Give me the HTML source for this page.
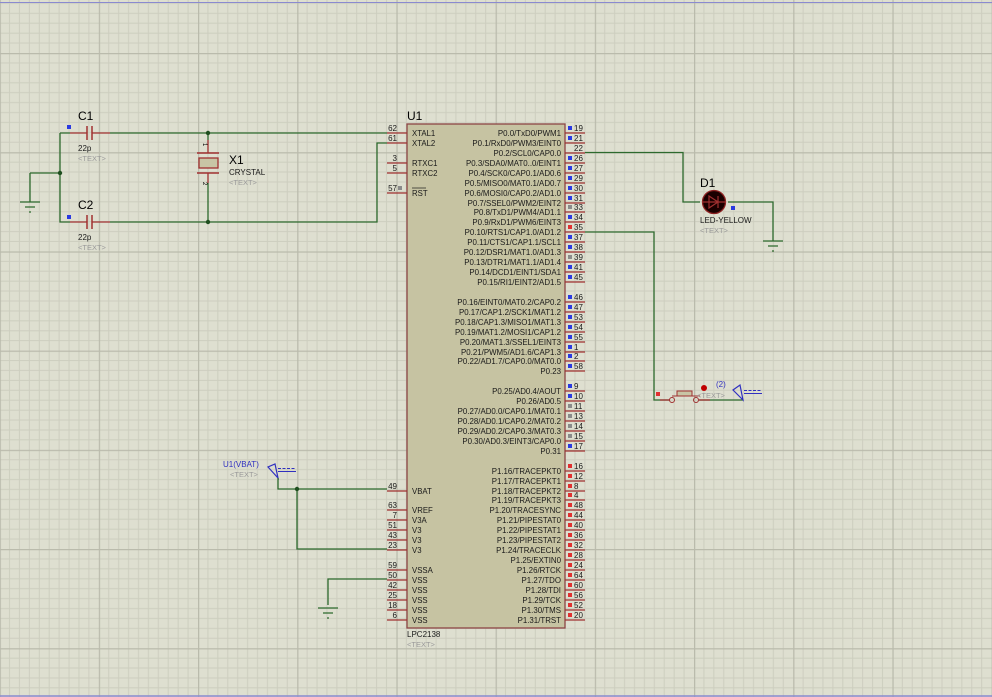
<!DOCTYPE html>
<html><head><meta charset="utf-8"><style>
html,body{margin:0;padding:0;background:#dcdccd;}
svg{display:block;}
text{font-family:"Liberation Sans",sans-serif;}
.p{font-size:7.8px;fill:#1a1a1a;}
.n{font-size:8px;fill:#1a1a1a;}
.lbl{font-size:7.9px;fill:#1a1a1a;text-anchor:end;}
.w{stroke:#2d6a2d;stroke-width:1.3;fill:none;}
.r{stroke:#a03030;stroke-width:1.3;fill:none;}
.g{fill:#9a9a9a;font-size:7.5px;}
</style></head><body>
<svg width="992" height="697" viewBox="0 0 992 697" xmlns="http://www.w3.org/2000/svg">
<defs>
<pattern id="gr" x="198" y="53" width="99.2" height="99.2" patternUnits="userSpaceOnUse">
<rect width="99.2" height="99.2" fill="#dedfd0"/>
<path d="M9.92 0V99.2M19.84 0V99.2M29.76 0V99.2M39.68 0V99.2M49.6 0V99.2M59.52 0V99.2M69.44 0V99.2M79.36 0V99.2M89.28 0V99.2M0 9.92H99.2M0 19.84H99.2M0 29.76H99.2M0 39.68H99.2M0 49.6H99.2M0 59.52H99.2M0 69.44H99.2M0 79.36H99.2M0 89.28H99.2" stroke="#cdcebf" stroke-width="1"/>
<path d="M0.5 0V99.2M0 0.5H99.2" stroke="#babbac" stroke-width="1.5"/>
</pattern>
</defs>
<rect width="992" height="697" fill="url(#gr)"/>
<line x1="0" y1="2.5" x2="992" y2="2.5" stroke="#8a8ad0" stroke-width="1"/>
<line x1="0" y1="696" x2="992" y2="696" stroke="#8a8ad0" stroke-width="1.5"/>

<!-- left circuit -->
<path class="w" d="M60 133H70M110 133H387M60 133V222H70M110 222H377V143H387M30 173H60M30 173V202M208 133V140M208 183V222"/>
<path class="r" d="M70 133H87M92 133H110M70 222H87M92 222H110M208 140V153M208 173V183"/>
<path d="M87 126V140M92 126V140M87 215V229M92 215V229" stroke="#a03030" stroke-width="1.5"/>
<path d="M197 153H219M197 173H219" stroke="#a03030" stroke-width="1.5"/>
<rect x="199" y="158" width="19" height="10" fill="#c8c5a5" stroke="#a03030" stroke-width="1.3"/>
<circle cx="60" cy="173" r="2.2" fill="#1f4f1f"/>
<circle cx="208" cy="133" r="2.2" fill="#1f4f1f"/>
<circle cx="208" cy="222" r="2.2" fill="#1f4f1f"/>
<path d="M20 202H40M25 207H35M29 212H31" stroke="#2d6a2d" stroke-width="1.3"/>
<rect x="67" y="125" width="4" height="4" fill="#2a3ae0"/>
<rect x="67" y="215" width="4" height="4" fill="#2a3ae0"/>
<text x="78" y="120" style="font-size:12px">C1</text>
<text x="78" y="151" class="n">22p</text>
<text x="78" y="161" class="g">&lt;TEXT&gt;</text>
<text x="78" y="209" style="font-size:12px">C2</text>
<text x="78" y="240" class="n">22p</text>
<text x="78" y="250" class="g">&lt;TEXT&gt;</text>
<text x="229" y="164" style="font-size:12px">X1</text>
<text x="229" y="175" class="n">CRYSTAL</text>
<text x="229" y="185" class="g">&lt;TEXT&gt;</text>
<text x="203" y="143" style="font-size:6px" transform="rotate(90 203 143)">1</text>
<text x="200" y="185" style="font-size:6px" transform="rotate(90 203 185)">2</text>

<!-- chip -->
<rect x="407" y="124" width="158" height="504" fill="#c6c3a2" stroke="#8c4545" stroke-width="1.3"/>
<text x="407" y="120" style="font-size:12px">U1</text>
<text x="407" y="637" class="n">LPC2138</text>
<text x="407" y="647" class="g">&lt;TEXT&gt;</text>

<!-- left pins -->
<g class="r"><path d="M387 133H407M387 143H407M387 163H407M387 173H407M387 193H407M387 491H407M387 510H407M387 520H407M387 530H407M387 540H407M387 550H407M387 570H407M387 580H407M387 590H407M387 600H407M387 610H407M387 620H407"/></g>
<g class="n" text-anchor="end">
<text x="397" y="131">62</text><text x="397" y="141">61</text><text x="397" y="161">3</text><text x="397" y="171">5</text><text x="397" y="191">57</text>
<text x="397" y="489">49</text><text x="397" y="508">63</text><text x="397" y="518">7</text><text x="397" y="528">51</text><text x="397" y="538">43</text><text x="397" y="548">23</text>
<text x="397" y="568">59</text><text x="397" y="578">50</text><text x="397" y="588">42</text><text x="397" y="598">25</text><text x="397" y="608">18</text><text x="397" y="618">6</text>
</g>
<rect x="398" y="186" width="4" height="4" fill="#8a8a8a"/>
<g class="p">
<text x="412" y="136">XTAL1</text><text x="412" y="146">XTAL2</text><text x="412" y="166">RTXC1</text><text x="412" y="176">RTXC2</text><text x="412" y="196">RST</text>
<text x="412" y="494">VBAT</text><text x="412" y="513">VREF</text><text x="412" y="523">V3A</text><text x="412" y="533">V3</text><text x="412" y="543">V3</text><text x="412" y="553">V3</text>
<text x="412" y="573">VSSA</text><text x="412" y="583">VSS</text><text x="412" y="593">VSS</text><text x="412" y="603">VSS</text><text x="412" y="613">VSS</text><text x="412" y="623">VSS</text>
</g>
<line x1="412" y1="188" x2="426" y2="188" stroke="#1a1a1a" stroke-width="0.7"/>

<!-- right pins -->
<g class="r"><path d="M565 133H585M565 143H585M565 153H585M565 163H585M565 173H585M565 183H585M565 193H585M565 203H585M565 212H585M565 222H585M565 232H585M565 242H585M565 252H585M565 262H585M565 272H585M565 282H585M565 302H585M565 312H585M565 322H585M565 332H585M565 342H585M565 352H585M565 361H585M565 371H585M565 391H585M565 401H585M565 411H585M565 421H585M565 431H585M565 441H585M565 451H585M565 471H585M565 481H585M565 491H585M565 500H585M565 510H585M565 520H585M565 530H585M565 540H585M565 550H585M565 560H585M565 570H585M565 580H585M565 590H585M565 600H585M565 610H585M565 620H585"/></g>
<g class="lbl">
<text x="561" y="136">P0.0/TxD0/PWM1</text>
<text x="561" y="146">P0.1/RxD0/PWM3/EINT0</text>
<text x="561" y="156">P0.2/SCL0/CAP0.0</text>
<text x="561" y="166">P0.3/SDA0/MAT0..0/EINT1</text>
<text x="561" y="176">P0.4/SCK0/CAP0.1/AD0.6</text>
<text x="561" y="186">P0.5/MISO0/MAT0.1/AD0.7</text>
<text x="561" y="196">P0.6/MOSI0/CAP0.2/AD1.0</text>
<text x="561" y="206">P0.7/SSEL0/PWM2/EINT2</text>
<text x="561" y="215">P0.8/TxD1/PWM4/AD1.1</text>
<text x="561" y="225">P0.9/RxD1/PWM6/EINT3</text>
<text x="561" y="235">P0.10/RTS1/CAP1.0/AD1.2</text>
<text x="561" y="245">P0.11/CTS1/CAP1.1/SCL1</text>
<text x="561" y="255">P0.12/DSR1/MAT1.0/AD1.3</text>
<text x="561" y="265">P0.13/DTR1/MAT1.1/AD1.4</text>
<text x="561" y="275">P0.14/DCD1/EINT1/SDA1</text>
<text x="561" y="285">P0.15/RI1/EINT2/AD1.5</text>
<text x="561" y="305">P0.16/EINT0/MAT0.2/CAP0.2</text>
<text x="561" y="315">P0.17/CAP1.2/SCK1/MAT1.2</text>
<text x="561" y="325">P0.18/CAP1.3/MISO1/MAT1.3</text>
<text x="561" y="335">P0.19/MAT1.2/MOSI1/CAP1.2</text>
<text x="561" y="345">P0.20/MAT1.3/SSEL1/EINT3</text>
<text x="561" y="355">P0.21/PWM5/AD1.6/CAP1.3</text>
<text x="561" y="364">P0.22/AD1.7/CAP0.0/MAT0.0</text>
<text x="561" y="374">P0.23</text>
<text x="561" y="394">P0.25/AD0.4/AOUT</text>
<text x="561" y="404">P0.26/AD0.5</text>
<text x="561" y="414">P0.27/AD0.0/CAP0.1/MAT0.1</text>
<text x="561" y="424">P0.28/AD0.1/CAP0.2/MAT0.2</text>
<text x="561" y="434">P0.29/AD0.2/CAP0.3/MAT0.3</text>
<text x="561" y="444">P0.30/AD0.3/EINT3/CAP0.0</text>
<text x="561" y="454">P0.31</text>
<text x="561" y="474">P1.16/TRACEPKT0</text>
<text x="561" y="484">P1.17/TRACEPKT1</text>
<text x="561" y="494">P1.18/TRACEPKT2</text>
<text x="561" y="503">P1.19/TRACEPKT3</text>
<text x="561" y="513">P1.20/TRACESYNC</text>
<text x="561" y="523">P1.21/PIPESTAT0</text>
<text x="561" y="533">P1.22/PIPESTAT1</text>
<text x="561" y="543">P1.23/PIPESTAT2</text>
<text x="561" y="553">P1.24/TRACECLK</text>
<text x="561" y="563">P1.25/EXTIN0</text>
<text x="561" y="573">P1.26/RTCK</text>
<text x="561" y="583">P1.27/TDO</text>
<text x="561" y="593">P1.28/TDI</text>
<text x="561" y="603">P1.29/TCK</text>
<text x="561" y="613">P1.30/TMS</text>
<text x="561" y="623">P1.31/TRST</text>
</g>
<g class="n">
<text x="574" y="131">19</text><text x="574" y="141">21</text><text x="574" y="151">22</text><text x="574" y="161">26</text><text x="574" y="171">27</text><text x="574" y="181">29</text><text x="574" y="191">30</text><text x="574" y="201">31</text><text x="574" y="210">33</text><text x="574" y="220">34</text><text x="574" y="230">35</text><text x="574" y="240">37</text><text x="574" y="250">38</text><text x="574" y="260">39</text><text x="574" y="270">41</text><text x="574" y="280">45</text>
<text x="574" y="300">46</text><text x="574" y="310">47</text><text x="574" y="320">53</text><text x="574" y="330">54</text><text x="574" y="340">55</text><text x="574" y="350">1</text><text x="574" y="359">2</text><text x="574" y="369">58</text>
<text x="574" y="389">9</text><text x="574" y="399">10</text><text x="574" y="409">11</text><text x="574" y="419">13</text><text x="574" y="429">14</text><text x="574" y="439">15</text><text x="574" y="449">17</text>
<text x="574" y="469">16</text><text x="574" y="479">12</text><text x="574" y="489">8</text><text x="574" y="498">4</text><text x="574" y="508">48</text><text x="574" y="518">44</text><text x="574" y="528">40</text><text x="574" y="538">36</text><text x="574" y="548">32</text><text x="574" y="558">28</text><text x="574" y="568">24</text><text x="574" y="578">64</text><text x="574" y="588">60</text><text x="574" y="598">56</text><text x="574" y="608">52</text><text x="574" y="618">20</text>
</g>
<g fill="#2a3ae0">
<rect x="568" y="126" width="4" height="4"/><rect x="568" y="136" width="4" height="4"/><rect x="568" y="156" width="4" height="4"/><rect x="568" y="166" width="4" height="4"/><rect x="568" y="176" width="4" height="4"/><rect x="568" y="186" width="4" height="4"/><rect x="568" y="196" width="4" height="4"/><rect x="568" y="215" width="4" height="4"/><rect x="568" y="235" width="4" height="4"/><rect x="568" y="245" width="4" height="4"/><rect x="568" y="265" width="4" height="4"/><rect x="568" y="275" width="4" height="4"/>
<rect x="568" y="295" width="4" height="4"/><rect x="568" y="305" width="4" height="4"/><rect x="568" y="315" width="4" height="4"/><rect x="568" y="325" width="4" height="4"/><rect x="568" y="335" width="4" height="4"/><rect x="568" y="345" width="4" height="4"/><rect x="568" y="354" width="4" height="4"/><rect x="568" y="364" width="4" height="4"/>
<rect x="568" y="384" width="4" height="4"/><rect x="568" y="394" width="4" height="4"/><rect x="568" y="444" width="4" height="4"/>
</g>
<g fill="#8a8a8a">
<rect x="568" y="205" width="4" height="4"/><rect x="568" y="255" width="4" height="4"/><rect x="568" y="404" width="4" height="4"/><rect x="568" y="414" width="4" height="4"/><rect x="568" y="424" width="4" height="4"/><rect x="568" y="434" width="4" height="4"/>
</g>
<g fill="#e03030">
<rect x="568" y="225" width="4" height="4"/>
<rect x="568" y="464" width="4" height="4"/><rect x="568" y="474" width="4" height="4"/><rect x="568" y="484" width="4" height="4"/><rect x="568" y="493" width="4" height="4"/><rect x="568" y="503" width="4" height="4"/><rect x="568" y="513" width="4" height="4"/><rect x="568" y="523" width="4" height="4"/><rect x="568" y="533" width="4" height="4"/><rect x="568" y="543" width="4" height="4"/><rect x="568" y="553" width="4" height="4"/><rect x="568" y="563" width="4" height="4"/><rect x="568" y="573" width="4" height="4"/><rect x="568" y="583" width="4" height="4"/><rect x="568" y="593" width="4" height="4"/><rect x="568" y="603" width="4" height="4"/><rect x="568" y="613" width="4" height="4"/>
</g>

<!-- LED -->
<path class="w" d="M585 152.5H683V202H700M728 202H773V241"/>
<path d="M763 241H783M768 246H778M772 251H774" stroke="#2d6a2d" stroke-width="1.3"/>
<circle cx="714" cy="202" r="11.5" fill="#1a0000" stroke="#8c2020" stroke-width="1.3"/>
<path d="M702 202H726M709 196V208L718 202Z M718 196V208" stroke="#a03030" stroke-width="1.2" fill="none"/>
<rect x="731" y="206" width="4" height="4" fill="#2a3ae0"/>
<text x="700" y="187" style="font-size:12px">D1</text>
<text x="700" y="223" class="n">LED-YELLOW</text>
<text x="700" y="233" class="g">&lt;TEXT&gt;</text>

<!-- button -->
<path class="w" d="M585 232H654V400H670M699 400H743"/>
<rect x="656" y="392" width="4" height="4" fill="#e03030"/>
<path class="r" d="M660 400H670M699 400H710"/>
<circle cx="672" cy="400" r="2.5" fill="none" stroke="#a03030" stroke-width="1"/>
<circle cx="696" cy="400" r="2.5" fill="none" stroke="#a03030" stroke-width="1"/>
<path d="M672 396H700" stroke="#a03030" stroke-width="1"/>
<rect x="677" y="391" width="15" height="5" fill="#c8c5a5" stroke="#a03030" stroke-width="1"/>
<circle cx="704" cy="388" r="3" fill="#c00000"/>
<text x="697" y="398" class="g">&lt;TEXT&gt;</text>
<text x="716" y="387" style="font-size:8px;fill:#3030c0">(2)</text>
<path d="M743 400L733 390L740 385Z" fill="none" stroke="#3030c0" stroke-width="1.2"/>
<path d="M744 390.5H762" stroke="#3030c0" stroke-width="1" stroke-dasharray="3 1.5"/>
<path d="M744 393.5H762" stroke="#3030c0" stroke-width="1"/>

<!-- VBAT -->
<text x="223" y="467" style="font-size:8px;fill:#3030c0">U1(VBAT)</text>
<text x="230" y="477" class="g">&lt;TEXT&gt;</text>
<path d="M278 478L268 467L275 464Z" fill="none" stroke="#3030c0" stroke-width="1.2"/>
<path d="M278 468.5H296" stroke="#3030c0" stroke-width="1" stroke-dasharray="3 1.5"/>
<path d="M278 471.5H296" stroke="#3030c0" stroke-width="1"/>
<path class="w" d="M278 478V489H387M297 489V549H387M387 579H328V605"/>
<circle cx="297" cy="489" r="2.2" fill="#1f4f1f"/>
<path d="M318 608H338M323 613H333M327 618H329" stroke="#2d6a2d" stroke-width="1.3"/>
</svg>
</body></html>
